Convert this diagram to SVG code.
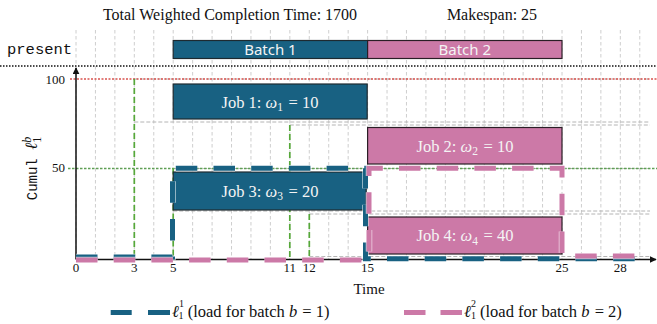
<svg xmlns="http://www.w3.org/2000/svg" width="657" height="324" viewBox="0 0 657 324">
<style>
.grid{stroke:#c8c8c8;stroke-width:0.9;stroke-dasharray:3.5 2.5;fill:none}
.region{stroke:#b4b4b4;stroke-width:1;stroke-dasharray:4 2;fill:none}
.rel{stroke:#56a83a;stroke-width:1.7;stroke-dasharray:6 3;fill:none}
.b1{fill:#186182;stroke:#1e2a30;stroke-width:1.2}
.b2{fill:#cc79a7;stroke:#2a1e26;stroke-width:1.2}
.jt{font-family:"Liberation Serif",serif;font-size:16.5px;fill:#f4f4f4;text-anchor:middle}
.bt{font-family:"Noto Sans",sans-serif;font-size:15px;fill:#f4f4f4;text-anchor:middle}
.tick{font-family:"Liberation Serif",serif;font-size:13px;fill:#111}
.serif{font-family:"Liberation Serif",serif;fill:#111}
.load{fill:none;stroke-width:5;stroke-dasharray:21.5 16.2}
.halo{fill:none;stroke:#fff;stroke-width:6.5;stroke-dasharray:21.5 16.2;opacity:0.7}
</style>
<defs>
<marker id="arr" viewBox="0 0 10 10" refX="9" refY="5" markerWidth="7" markerHeight="7" orient="auto" markerUnits="userSpaceOnUse">
<path d="M0,0 L10,5 L0,10 z" fill="#111"/>
</marker>
</defs>
<rect width="657" height="324" fill="#fff"/>

<!-- titles -->
<text class="serif" x="230" y="20" font-size="16" text-anchor="middle">Total Weighted Completion Time: 1700</text>
<text class="serif" x="492" y="20" font-size="16" text-anchor="middle">Makespan: 25</text>
<text x="7" y="54" font-family="'Liberation Mono',monospace" font-size="15.5" fill="#111">present</text>

<!-- grid -->
<g id="grid">
<path class="grid" d="M76,30V259 M95.44,30V259 M114.88,30V259 M134.32,30V259 M153.76,30V259 M173.2,30V259 M192.64,30V259 M212.08,30V259 M231.52,30V259 M250.96,30V259 M270.4,30V259 M289.84,30V259 M309.28,30V259 M328.72,30V259 M348.16,30V259 M367.6,30V259 M387.04,30V259 M406.48,30V259 M425.92,30V259 M445.36,30V259 M464.8,30V259 M484.24,30V259 M503.68,30V259 M523.12,30V259 M542.56,30V259 M562,30V259 M581.44,30V259 M600.88,30V259 M620.32,30V259 M639.76,30V259"/>
</g>

<!-- reference lines -->
<g id="reflines">
<line x1="0" y1="66" x2="657" y2="66" stroke="#111" stroke-width="1.3" stroke-dasharray="1.5 1.5"/>
<path class="region" d="M134.3,79H650 M134.3,122H650 M289.8,125H650 M173.2,168.5H650 M173.2,211H650 M309.3,214H650 M309.3,256.5H650"/>
<line x1="70" y1="79" x2="657" y2="79" stroke="#d9534f" stroke-width="1.4" stroke-dasharray="2 1.5"/>
<line x1="68" y1="168.5" x2="657" y2="168.5" stroke="#5f9f55" stroke-width="1.3" stroke-dasharray="2.5 1.5"/>
<path class="rel" d="M134.3,79V259 M173.2,168.5V259 M289.8,125V259 M309.3,214V259"/>
</g>

<!-- batches -->
<g id="batch1"><rect class="b1" x="173.2" y="40.5" width="194.4" height="18"/><text class="bt" x="270.4" y="55">Batch 1</text></g>
<g id="batch2"><rect class="b2" x="367.6" y="40.5" width="194.4" height="18"/><text class="bt" x="464.8" y="55">Batch 2</text></g>

<!-- jobs -->
<g id="job1"><rect class="b1" x="173.2" y="84" width="194" height="35"/>
<text class="jt" x="270" y="107.5">Job 1: <tspan font-style="italic">ω</tspan><tspan font-size="11.5" dy="3.5">1</tspan><tspan dy="-3.5" dx="1.5"> = 10</tspan></text></g>
<g id="job2"><rect class="b2" x="367.6" y="127.5" width="194.4" height="36.5"/>
<text class="jt" x="465" y="151.5">Job 2: <tspan font-style="italic">ω</tspan><tspan font-size="11.5" dy="3.5">2</tspan><tspan dy="-3.5" dx="1.5"> = 10</tspan></text></g>
<g id="job3"><rect class="b1" x="173.2" y="172" width="193" height="38"/>
<text class="jt" x="270" y="196.5">Job 3: <tspan font-style="italic">ω</tspan><tspan font-size="11.5" dy="3.5">3</tspan><tspan dy="-3.5" dx="1.5"> = 20</tspan></text></g>
<g id="job4"><rect class="b2" x="367.6" y="217" width="194.4" height="37"/>
<text class="jt" x="465" y="241">Job 4: <tspan font-style="italic">ω</tspan><tspan font-size="11.5" dy="3.5">4</tspan><tspan dy="-3.5" dx="1.5"> = 40</tspan></text></g>

<!-- axes -->
<g id="axes">
<line x1="76" y1="259.5" x2="656" y2="259.5" stroke="#111" stroke-width="1.5" marker-end="url(#arr)"/>
<line x1="76" y1="259.5" x2="76" y2="68" stroke="#111" stroke-width="1.5" marker-end="url(#arr)"/>
</g>

<!-- load connectors -->
<g id="connectors">
<path class="halo" d="M76,257 H172.5 V168.3 H365.5 V258.7 H640"/>
<path class="load" stroke="#186182" d="M76,257 H172.5 V168.3 H365.5 V258.7 H640"/>
<path class="halo" d="M76,260 H369 V168.3 H562 V256 H640"/>
<path class="load" stroke="#cc79a7" d="M76,260 H369 V168.3 H562 V256 H640"/>
</g>

<!-- tick labels -->
<g id="ticks">
<text class="tick" x="65" y="84" text-anchor="end">100</text>
<text class="tick" x="65" y="172" text-anchor="end">50</text>
<text class="tick" x="76" y="272" text-anchor="middle">0</text>
<text class="tick" x="134.3" y="272" text-anchor="middle">3</text>
<text class="tick" x="173.2" y="272" text-anchor="middle">5</text>
<text class="tick" x="289.8" y="272" text-anchor="middle">11</text>
<text class="tick" x="309.3" y="272" text-anchor="middle">12</text>
<text class="tick" x="367.6" y="272" text-anchor="middle">15</text>
<text class="tick" x="562" y="272" text-anchor="middle">25</text>
<text class="tick" x="620.3" y="272" text-anchor="middle">28</text>
</g>
<text class="serif" x="369" y="294" font-size="15" text-anchor="middle">Time</text>
<text transform="translate(37,168.5) rotate(-90)" text-anchor="middle" fill="#111"><tspan font-family="'Liberation Mono',monospace" font-size="14">Cumul </tspan><tspan font-family="'Liberation Serif',serif" font-style="italic" font-size="17">ℓ</tspan><tspan font-family="'Liberation Serif',serif" font-style="italic" font-size="12" dy="-6">b</tspan><tspan font-family="'Liberation Serif',serif" font-size="12" dx="-6" dy="10">1</tspan></text>

<!-- legend -->
<g id="legend">
<path d="M110.7,312.5H131.7 M148,312.5H170" stroke="#186182" stroke-width="5" fill="none"/>
<text class="serif" x="172" y="316.5" font-size="16.5"><tspan font-style="italic">ℓ</tspan><tspan font-size="10" dy="-9.5">1</tspan><tspan font-size="10" dx="-5" dy="11.5">1</tspan><tspan dy="-2"> (load for batch </tspan><tspan font-style="italic">b</tspan><tspan dx="1"> = 1)</tspan></text>
<path d="M404,312.5H425.5 M440.5,312.5H462" stroke="#cc79a7" stroke-width="5" fill="none"/>
<text class="serif" x="464" y="316.5" font-size="16.5"><tspan font-style="italic">ℓ</tspan><tspan font-size="10" dy="-9.5">2</tspan><tspan font-size="10" dx="-5" dy="11.5">1</tspan><tspan dy="-2"> (load for batch </tspan><tspan font-style="italic">b</tspan><tspan dx="1"> = 2)</tspan></text>
</g>
</svg>
